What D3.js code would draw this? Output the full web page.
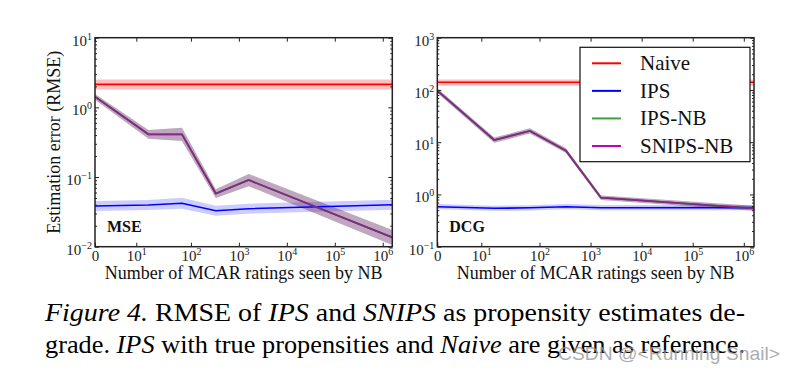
<!DOCTYPE html>
<html><head><meta charset="utf-8">
<script src="https://cdn.jsdelivr.net/npm/d3@7"></script>
<style>
body{margin:0;background:#fff}svg{display:block}
.serif{font-family:"Liberation Serif","Times New Roman","DejaVu Serif",serif}
.sans{font-family:"Liberation Sans","DejaVu Sans",sans-serif}
</style>
</head><body>
<svg id="c" width="795" height="373"></svg>
<script>
// ---------- data ----------
const xValues = [0, 13, 65, 330, 1600, 1583000];
const xTickValues = [0, 10, 100, 1000, 1e4, 1e5, 1e6];
const xTickExps = [null, "1", "2", "3", "4", "5", "6"];
const seriesNames = ["Naive", "IPS", "IPS-NB", "SNIPS-NB"];
const seriesColors = ["#ff0000", "#0000ff", "#008000", "#bf00bf"];

// MSE panel
const mseYTicks = [0.01, 0.1, 1, 10];
const mseYExps = ["\u22122", "\u22121", "0", "1"];
const mseNaive   = [2.14, 2.14, 2.14, 2.14, 2.14, 2.14];
const mseNaiveLo = [1.81, 1.81, 1.81, 1.81, 1.81, 1.81];
const mseNaiveHi = [2.52, 2.52, 2.52, 2.52, 2.52, 2.52];
const mseIPS     = [0.0384, 0.0397, 0.042, 0.0328, 0.0351, 0.040];
const mseIPSLo   = [0.0325, 0.0336, 0.0350, 0.0278, 0.0297, 0.0339];
const mseIPSHi   = [0.0453, 0.0468, 0.0504, 0.0387, 0.0414, 0.0472];
const mseIPSNB   = [1.42, 0.41, 0.41, 0.058, 0.0906, 0.0136];
const mseIPSNBLo = [1.29, 0.355, 0.33, 0.050, 0.074, 0.0106];
const mseIPSNBHi = [1.56, 0.475, 0.51, 0.067, 0.111, 0.0174];
const mseSNIPS   = [1.42, 0.41, 0.41, 0.058, 0.0906, 0.0136];
const mseSNIPSLo = [1.29, 0.355, 0.33, 0.050, 0.074, 0.0106];
const mseSNIPSHi = [1.56, 0.475, 0.51, 0.067, 0.111, 0.0174];

// DCG panel
const dcgYTicks = [0.1, 1, 10, 100, 1000];
const dcgYExps = ["\u22121", "0", "1", "2", "3"];
const dcgNaive   = [140, 140, 140, 140, 140, 140];
const dcgNaiveLo = [120, 120, 120, 120, 120, 120];
const dcgNaiveHi = [158, 158, 158, 158, 158, 158];
const dcgIPS     = [0.583, 0.543, 0.555, 0.583, 0.558, 0.56];
const dcgIPSLo   = [0.52, 0.485, 0.495, 0.52, 0.498, 0.50];
const dcgIPSHi   = [0.653, 0.608, 0.622, 0.653, 0.625, 0.627];
const dcgIPSNB   = [97, 11.0, 16.4, 6.9, 0.867, 0.543];
const dcgIPSNBLo = [87, 9.8, 14.6, 6.2, 0.78, 0.485];
const dcgIPSNBHi = [108, 12.3, 18.4, 7.7, 0.96, 0.61];
const dcgSNIPS   = [97, 11.0, 16.4, 6.9, 0.867, 0.543];
const dcgSNIPSLo = [87, 9.8, 14.6, 6.2, 0.78, 0.485];
const dcgSNIPSHi = [108, 12.3, 18.4, 7.7, 0.96, 0.61];

// ---------- drawing ----------
const svg = d3.select("#c");

// matplotlib-style symlog transform (linthresh ~12.9, linscale 1)
const LT = 12.9, LSA = 1 / (1 - 0.1);
const symT = v => v <= LT ? LSA * v / LT : LSA + Math.log10(v / LT);

function supLabel(sel, base, exp) {
  sel.text(null);
  sel.append("tspan").text(base);
  if (exp !== null) sel.append("tspan").style("font-size", "10px").attr("dy", -6).text(exp);
}

function panel(cfg) {
  const {x0, x1, y0, y1, yDomain, yTicks, yExps, series, tag, id} = cfg;
  const xs = d3.scaleLinear().domain([symT(0), symT(xValues[xValues.length - 1])]).range([x0, x1]);
  const X = v => xs(symT(v));
  const ys = d3.scaleLog().domain(yDomain).range([y1, y0]);
  const g = svg.append("g");
  g.append("clipPath").attr("id", "clip" + id).append("rect")
    .attr("x", x0).attr("y", y0).attr("width", x1 - x0).attr("height", y1 - y0);
  const plot = g.append("g").attr("clip-path", `url(#clip${id})`);

  const area = d3.area().x((d, i) => X(xValues[i])).y0(d => ys(d[0])).y1(d => ys(d[1]));
  const line = d3.line().x((d, i) => X(xValues[i])).y(d => ys(d));
  series.forEach(s => {
    plot.append("path").datum(s.lo.map((l, i) => [l, s.hi[i]]))
      .attr("d", area).attr("fill", s.color).attr("fill-opacity", s.bandAlpha);
  });
  series.forEach(s => {
    plot.append("path").datum(s.values).attr("d", line)
      .attr("fill", "none").attr("stroke", s.color).attr("stroke-width", s.width)
      .attr("stroke-opacity", s.lineAlpha).attr("stroke-linejoin", "miter");
  });

  const tickX = (axisFn, ty, labels) => {
    const ax = g.append("g").attr("transform", `translate(0,${ty})`)
      .call(axisFn(xs.copy()).tickValues(xTickValues.map(symT)).tickSize(-4).tickSizeOuter(0));
    ax.attr("font-family", null).attr("font-size", null);
    ax.select(".domain").remove();
    ax.selectAll("line").attr("stroke", "#222").attr("stroke-width", 1);
    if (labels) {
      ax.selectAll("text").attr("y", 14.5).attr("dy", null).attr("class", "serif")
        .style("font-size", "15px").attr("fill", "#222")
        .each(function(d, i) { supLabel(d3.select(this), i === 0 ? "0" : "10", xTickExps[i]); });
    } else ax.selectAll("text").remove();
  };
  tickX(d3.axisBottom, y1, true);
  tickX(d3.axisTop, y0, false);

  const minors = [];
  for (let k = Math.round(Math.log10(yDomain[0])); k < Math.round(Math.log10(yDomain[1])); k++)
    for (let m = 2; m <= 9; m++) minors.push(m * Math.pow(10, k));
  const tickY = (axisFn, tx, labels) => {
    const ax = g.append("g").attr("transform", `translate(${tx},0)`)
      .call(axisFn(ys).tickValues(yTicks).tickSize(-4).tickSizeOuter(0).tickPadding(3));
    ax.attr("font-family", null).attr("font-size", null);
    ax.select(".domain").remove();
    ax.selectAll("line").attr("stroke", "#222").attr("stroke-width", 1);
    if (labels) {
      ax.selectAll("text").attr("dy", "0.5em").attr("class", "serif")
        .style("font-size", "15px").attr("fill", "#222")
        .each(function(d, i) { supLabel(d3.select(this), "10", yExps[i]); });
    } else ax.selectAll("text").remove();
    const mn = g.append("g").attr("transform", `translate(${tx},0)`)
      .call(axisFn(ys).tickValues(minors).tickSize(-2).tickSizeOuter(0).tickFormat(""));
    mn.select(".domain").remove();
    mn.selectAll("line").attr("stroke", "#222").attr("stroke-width", 1);
  };
  tickY(d3.axisLeft, x0, true);
  tickY(d3.axisRight, x1, false);

  g.append("rect").attr("x", x0).attr("y", y0).attr("width", x1 - x0).attr("height", y1 - y0)
    .attr("fill", "none").attr("stroke", "#222").attr("stroke-width", 1.5);

  g.append("text").attr("x", x0 + 12).attr("y", y1 - 15).attr("class", "serif")
    .style("font-weight", "bold").style("font-size", "16px").attr("fill", "#111").text(tag);

  g.append("text").attr("x", (x0 + x1) / 2).attr("y", 279).attr("text-anchor", "middle")
    .attr("class", "serif").style("font-size", "18px").attr("fill", "#111")
    .text("Number of MCAR ratings seen by NB");
  return g;
}

function mkSeries(naive, naiveLo, naiveHi, ips, ipsLo, ipsHi, nb, nbLo, nbHi, sn, snLo, snHi) {
  return [
    {values: naive, lo: naiveLo, hi: naiveHi, color: seriesColors[0], bandAlpha: 0.25, lineAlpha: 1, width: 1.6},
    {values: ips, lo: ipsLo, hi: ipsHi, color: seriesColors[1], bandAlpha: 0.2, lineAlpha: 1, width: 1.6},
    {values: nb, lo: nbLo, hi: nbHi, color: seriesColors[2], bandAlpha: 0.25, lineAlpha: 1, width: 1.8},
    {values: sn, lo: snLo, hi: snHi, color: seriesColors[3], bandAlpha: 0.25, lineAlpha: 0.7, width: 1.8}
  ];
}

panel({x0: 95, x1: 392.3, y0: 37.7, y1: 246.7, yDomain: [0.01, 10], yTicks: mseYTicks, yExps: mseYExps,
  tag: "MSE", id: 1,
  series: mkSeries(mseNaive, mseNaiveLo, mseNaiveHi, mseIPS, mseIPSLo, mseIPSHi,
                   mseIPSNB, mseIPSNBLo, mseIPSNBHi, mseSNIPS, mseSNIPSLo, mseSNIPSHi)});
panel({x0: 437.3, x1: 754, y0: 37.7, y1: 246.7, yDomain: [0.1, 1000], yTicks: dcgYTicks, yExps: dcgYExps,
  tag: "DCG", id: 2,
  series: mkSeries(dcgNaive, dcgNaiveLo, dcgNaiveHi, dcgIPS, dcgIPSLo, dcgIPSHi,
                   dcgIPSNB, dcgIPSNBLo, dcgIPSNBHi, dcgSNIPS, dcgSNIPSLo, dcgSNIPSHi)});

// y label
svg.append("text").attr("transform", "translate(60,142.2) rotate(-90)").attr("text-anchor", "middle")
  .attr("class", "serif").style("font-size", "18px").attr("fill", "#111").text("Estimation error (RMSE)");

// legend
const lg = svg.append("g");
lg.append("rect").attr("x", 580).attr("y", 47.3).attr("width", 170).attr("height", 114.4)
  .attr("fill", "#fff").attr("stroke", "#111").attr("stroke-width", 1.2);
const rowY = d3.scalePoint().domain(seriesNames).range([63.3, 146]);
seriesNames.forEach((n, i) => {
  lg.append("line").attr("x1", 592).attr("x2", 621).attr("y1", rowY(n)).attr("y2", rowY(n))
    .attr("stroke", seriesColors[i]).attr("stroke-width", 2).attr("stroke-opacity", i === 2 ? 0.75 : 1);
  lg.append("text").attr("x", 640).attr("y", rowY(n) + 7).attr("class", "serif")
    .style("font-size", "21px").attr("fill", "#111").text(n);
});

// caption
const cap1 = [["Figure 4.", true], [" RMSE of ", false], ["IPS", true], [" and ", false], ["SNIPS", true],
  [" as propensity estimates de-", false]];
const cap2 = [["grade. ", false], ["IPS", true], [" with true propensities and ", false], ["Naive", true],
  [" are given as reference.", false]];
[[cap1, 321], [cap2, 353]].forEach(([parts, y]) => {
  const t = svg.append("text").attr("x", 45).attr("y", y).attr("class", "serif")
    .style("font-size", "26px").attr("fill", "#000").attr("textLength", 700).attr("lengthAdjust", "spacingAndGlyphs")
    .style("white-space", "pre");
  parts.forEach(([s, it]) => t.append("tspan").style("font-style", it ? "italic" : "normal").text(s));
});

// watermark
svg.append("text").attr("x", 558).attr("y", 360).attr("class", "sans")
  .style("font-size", "19px").attr("fill", "rgba(150,150,150,0.8)").attr("textLength", 222)
  .attr("lengthAdjust", "spacingAndGlyphs").text("CSDN @<Running Snail>");
</script>
</body></html>
